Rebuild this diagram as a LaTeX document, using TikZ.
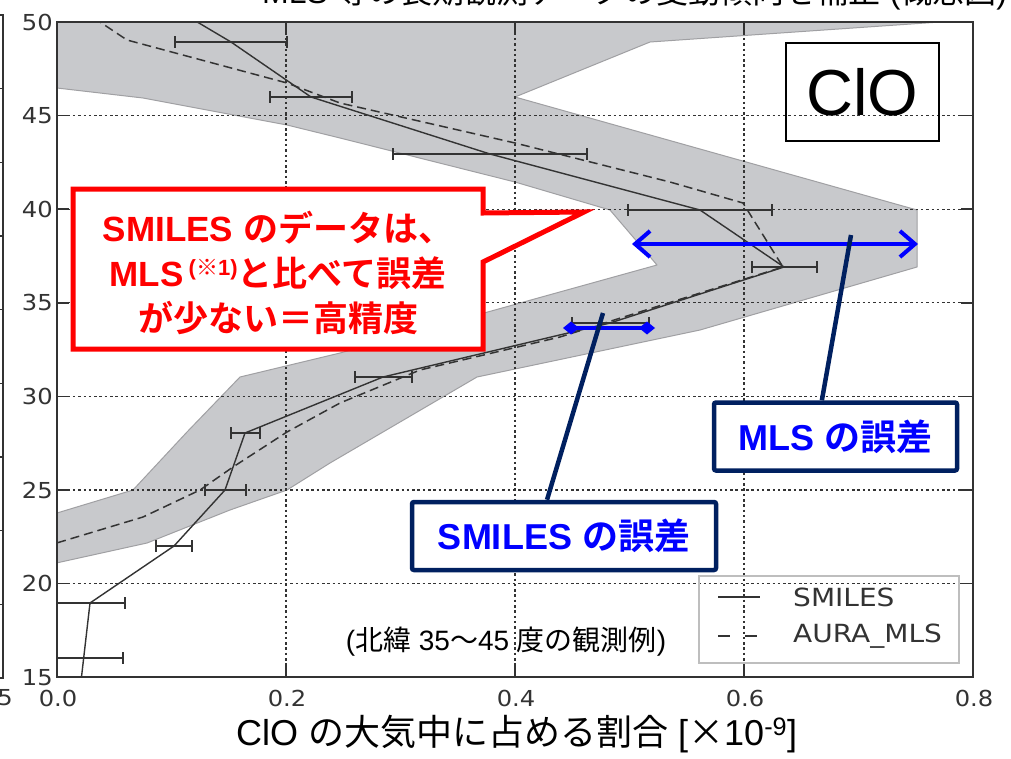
\documentclass[tikz,border=0pt]{standalone}
\usepackage{fontspec}
\setmainfont{Liberation Sans}
\newfontfamily\jp{Noto Sans CJK JP}[BoldFont={Noto Sans CJK JP Bold}]
\newfontfamily\dejavu{DejaVu Sans}
\usetikzlibrary{arrows.meta,calc}
\definecolor{bandfill}{RGB}{200,201,204}
\definecolor{bandedge}{RGB}{160,160,163}
\definecolor{axisgray}{RGB}{51,51,51}
\definecolor{navy}{RGB}{0,32,96}
\definecolor{pureblue}{RGB}{0,0,255}
\definecolor{purered}{RGB}{255,0,0}
\definecolor{leggray}{RGB}{190,190,190}
\newcommand\J[1]{{\jp #1}}
\newcommand\setfs[1]{\fontsize{#1}{#1}\selectfont}
\begin{document}
\begin{tikzpicture}[x=1pt,y=-1pt,
  band/.style={fill=bandfill, draw=bandedge, line width=1pt, line join=round},
  gridline/.style={draw=axisgray, line width=1.2pt, dash pattern=on 2.5pt off 2.8pt},
  frameline/.style={draw=axisgray, line width=1.5pt},
  smiles/.style={draw=axisgray, line width=1.4pt, line join=round},
  mls/.style={draw=axisgray, line width=1.5pt, dash pattern=on 9pt off 5pt},
  ebar/.style={draw=axisgray, line width=1.4pt},
  ticklab/.style={font=\dejavu\setfs{22}, text=axisgray, inner sep=0pt, xscale=1.1},
  legtext/.style={font=\dejavu\setfs{25}, text=axisgray, inner sep=0pt, anchor=west, xscale=1.12},
  redtext/.style={font=\bfseries\fontsize{35}{45}\selectfont, text=purered, align=center, inner sep=0pt},
  navybox/.style={draw=navy, line width=4.5pt, rounded corners=2pt, fill=white, inner sep=0pt, font=\bfseries\setfs{36}, text=pureblue},
  navyline/.style={draw=navy, line width=4.5pt},
  bluearrow/.style={draw=pureblue, line width=4pt},
]
\useasboundingbox (0,0) rectangle (1011,758);
\fill[white] (0,0) rectangle (1011,758);

% ---- plot contents (clipped to axes) ----
\begin{scope}
\clip (57,22) rectangle (973,677);
\filldraw[band] (20,10) -- (1000,10) -- (1000,18) -- (940,22) -- (650,42) -- (515,97) -- (917,210) -- (917,267)
  -- (700,330) -- (477,377) -- (330,463) -- (287,490) -- (230,510) -- (147,543) -- (20,571)
  -- (20,524) -- (57,513) -- (133,490) -- (187,432) -- (240,377) -- (340,353) -- (657,265)
  -- (610,210) -- (515,182) -- (340,138) -- (287,125) -- (143,98) -- (57,88) -- (20,84) -- cycle;
\foreach \v in {0.2,0.4,0.6} \draw[gridline] ({57+1145*\v},22) -- ({57+1145*\v},677);
\foreach \h in {20,25,...,45} \draw[gridline] (57,{958-18.72*\h}) -- (973,{958-18.72*\h});
\draw[smiles] (177,10) -- (231,42) -- (311,97) -- (490,154) -- (700,210) -- (784,267) -- (610,323)
  -- (383,377) -- (245,433) -- (225,490) -- (174,546) -- (90,603) -- (80,690);
\draw[mls] (82,10) -- (127,40) -- (287,83) -- (340,103) -- (515,143) -- (670,182) -- (743,203) -- (783,267)
  -- (560,337) -- (420,370) -- (340,403) -- (287,432) -- (233,467) -- (200,490) -- (143,517) -- (40,548);
\foreach \y/\a/\b in {42/175/287, 97/270/352, 154/393/587, 210/628/772, 267/752/817, 323/572/649,
  377/355/412, 433/231/260, 490/205/246, 546/156/192, 603/55/125, 658/45/123}
  \draw[ebar] (\a,\y-6) -- (\a,\y+6) (\a,\y) -- (\b,\y) (\b,\y-6) -- (\b,\y+6);
\end{scope}

% ---- frame and ticks ----
\draw[frameline] (57,22) rectangle (973,677);
\foreach \v in {0.2,0.4,0.6} {
  \draw[frameline] ({57+1145*\v},22) -- ++(0,12);
  \draw[frameline] ({57+1145*\v},677) -- ++(0,-12);
}
\foreach \h in {20,25,...,45} {
  \draw[frameline] (57,{958-18.72*\h}) -- ++(12,0);
  \draw[frameline] (973,{958-18.72*\h}) -- ++(-12,0);
}
\foreach \h in {15,20,...,50} \node[ticklab, anchor=east] (ylab\h) at (53,{958-18.72*\h}) {\h};
\foreach \v/\t [count=\i] in {0/0.0,0.2/0.2,0.4/0.4,0.6/0.6,0.8/0.8}
  \node[ticklab] (xlab\i) at ({58+1145*\v},698) {\t};

% ---- neighbouring plot edge ----
\draw[frameline] (0,15) -- (3,15) -- (3,678) -- (0,678);
\foreach \k in {1,...,8} \draw[frameline] (0,{15+73.67*\k}) -- (3,{15+73.67*\k});
\node[ticklab, anchor=east] (prevlab) at (13,698) {5};

% ---- legend ----
\node[draw=leggray, line width=1.5pt, minimum width=260pt, minimum height=87pt, inner sep=0pt] (legend) at (829,619.5) {};
\draw[smiles] (718,597) -- (760,597);
\draw[ebar, dash pattern=on 12pt off 15pt] (718,636) -- (757,636);
\node[legtext] (legS) at (793,597) {SMILES};
\node[legtext] (legM) at (793,636) {AURA\_MLS};

% ---- ClO label box ----
\node[draw=black, line width=1.5pt, minimum width=153pt, minimum height=98pt, inner sep=0pt, font=\setfs{65}] (clo) at (862.5,92) {ClO};

% ---- observation note ----
\node[font=\setfs{28}, inner sep=0pt] (note) at (506,642) {(\J{北緯} 35\J{～}45 \J{度の観測例})};

% ---- red callout ----
\draw[draw=purered, line width=5pt, fill=white, line join=miter] (73,189) -- (483,189) -- (483,213) -- (584,212) -- (483,262) -- (483,349) -- (73,349) -- cycle;
\node[redtext] (redmsg) at (278,273) {SMILES \J{のデータは、}\\MLS\hspace{5pt}\raisebox{0.33em}{\setfs{22}(\J{※}1)}\J{と比べて誤差}\\\J{が少ない＝高精度}};

% ---- blue error arrows ----
\coordinate (mlsL) at (632,244);
\coordinate (mlsR) at (918,244);
\draw[bluearrow, {Straight Barb[length=15pt,width=26pt]}-{Straight Barb[length=15pt,width=26pt]}] (mlsL) -- (mlsR);
\coordinate (smL) at (563,328);
\coordinate (smR) at (655,328);
\draw[bluearrow, {Diamond[length=16pt,width=13pt]}-{Diamond[length=16pt,width=13pt]}] (smL) -- (smR);

% ---- navy label boxes ----
\node[navybox, minimum width=243pt, minimum height=68pt] (mlsbox) at (835.5,436.5) {MLS \J{の誤差}};
\node[navybox, minimum width=304pt, minimum height=68pt] (smbox) at (564,536) {SMILES \J{の誤差}};
\coordinate (mlsTip) at (851,235);
\coordinate (smTip) at (603,313);
\draw[navyline] ($(mlsbox.north west)!0.445!(mlsbox.north east)$) -- (mlsTip);
\draw[navyline] ($(smbox.north west)!0.445!(smbox.north east)$) -- (smTip);

% ---- axis label and clipped title ----
\node[font=\setfs{36}, anchor=base west, inner sep=0pt] (xlabel) at (236,745) {ClO \J{の大気中に占める割合} [\J{×}10\textsuperscript{-9}]};
\node[font=\setfs{32}, anchor=base west, inner sep=0pt] (title) at (262,3) {MLS \J{等の長期観測データの変動傾向を補正} (\J{概念図})};
\end{tikzpicture}
\end{document}
